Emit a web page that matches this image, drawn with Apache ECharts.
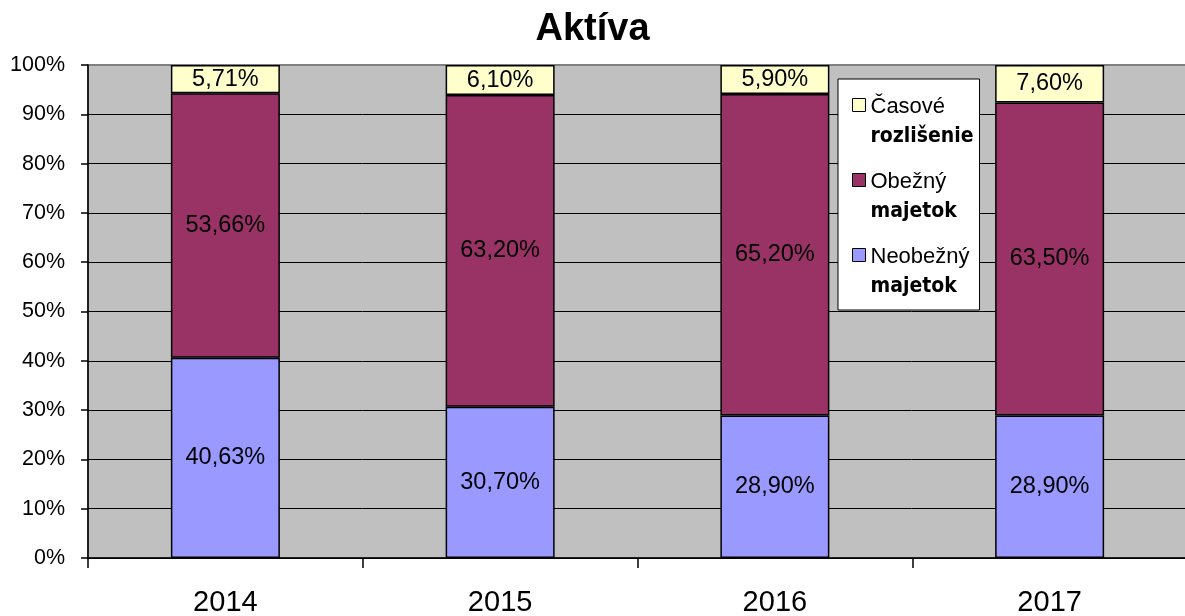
<!DOCTYPE html>
<html>
<head>
<meta charset="utf-8">
<script src="https://cdn.jsdelivr.net/npm/echarts@6/dist/echarts.min.js"></script>
<style>
html,body{margin:0;padding:0;background:#fff;}
#chart{width:1185px;height:616px;}
</style>
</head>
<body>
<div id="chart"></div>
<script>
const categories = ['2014', '2015', '2016', '2017'];
const neobeznyMajetok = [40.63, 30.70, 28.90, 28.90];
const obeznyMajetok = [53.66, 63.20, 65.20, 63.50];
const casoveRozlisenie = [5.71, 6.10, 5.90, 7.60];
const seriesNames = ['Neobežný majetok', 'Obežný majetok', 'Časové rozlišenie'];
const yTicks = [0, 10, 20, 30, 40, 50, 60, 70, 80, 90, 100];

const FONT = "'Liberation Sans', Arial, sans-serif";
const NARROW = "'DejaVu Sans Condensed', 'Liberation Sans', sans-serif";
const colors = ['#9999FF', '#993366', '#FFFFCC'];
const values = [neobeznyMajetok, obeznyMajetok, casoveRozlisenie];

const chart = echarts.init(document.getElementById('chart'), null, {renderer: 'canvas'});

function fmt(v) { return v.toFixed(2).replace('.', ',') + '%'; }

const series = seriesNames.map((name, i) => ({
  name: name,
  type: 'bar',
  stack: 'total',
  barWidth: 109,
  data: values[i],
  itemStyle: { color: colors[i], borderColor: '#000', borderWidth: 1.5 },
  label: {
    show: true,
    position: 'inside',
    color: '#000',
    fontFamily: FONT,
    fontSize: 23.5,
    formatter: p => fmt(p.value)
  },
  emphasis: { disabled: true }
}));

const option = {
  animation: false,
  backgroundColor: '#fff',
  title: {
    text: 'Aktíva',
    left: 'center',
    top: 6,
    textStyle: { fontFamily: FONT, fontSize: 38, fontWeight: 'bold', color: '#000' }
  },
  grid: {
    left: 88, top: 65, right: -2, bottom: 58,
    show: true, backgroundColor: '#C0C0C0', borderColor: '#808080', borderWidth: 2,
    containLabel: false,
    outerBoundsMode: 'none'
  },
  legend: {
    data: seriesNames.slice().reverse(),
    orient: 'vertical',
    left: 838,
    top: 79,
    padding: [13, 6, 7, 14],
    itemGap: 14,
    itemWidth: 13,
    itemHeight: 60,
    icon: 'path://M0,6h13v13h-13z M0,0L0,0 M13,60L13,60',
    backgroundColor: '#fff',
    borderColor: '#000',
    borderWidth: 1,
    itemStyle: { borderColor: '#000', borderWidth: 1 },
    selectedMode: false,
    formatter: function (name) {
      const idx = name.indexOf(' ');
      return '{a|' + name.slice(0, idx) + '}\n{b|' + name.slice(idx + 1) + '}';
    },
    textStyle: {
      color: '#000',
      rich: {
        a: { fontFamily: FONT, fontSize: 22, lineHeight: 29, color: '#000' },
        b: { fontFamily: NARROW, fontSize: 21, fontWeight: 'bold', lineHeight: 31, color: '#000' }
      }
    }
  },
  xAxis: {
    type: 'category',
    data: categories,
    axisLine: { lineStyle: { color: '#000', width: 1.5 } },
    axisTick: { show: true, length: 10, lineStyle: { color: '#000', width: 1.5 } },
    axisLabel: { fontFamily: FONT, fontSize: 29, color: '#000', margin: 30 },
    splitLine: { show: false }
  },
  yAxis: {
    type: 'value',
    min: yTicks[0],
    max: yTicks[yTicks.length - 1],
    interval: yTicks[1] - yTicks[0],
    axisLine: { show: true, lineStyle: { color: '#000', width: 1.5 } },
    axisTick: { show: true, length: 7, lineStyle: { color: '#000', width: 1.5 } },
    axisLabel: { fontFamily: FONT, fontSize: 21.5, color: '#000', margin: 23, formatter: '{value}%' },
    splitLine: { show: true, showMaxLine: false, lineStyle: { color: '#000', width: 1 } }
  },
  series: series
};

chart.setOption(option);
</script>
</body>
</html>
